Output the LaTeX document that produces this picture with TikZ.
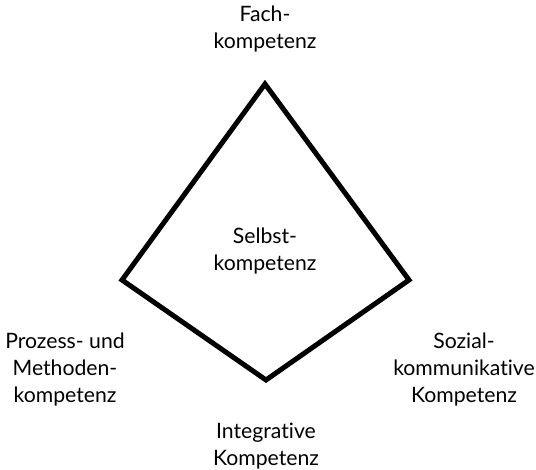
\documentclass[tikz,border=0pt]{standalone}
\usepackage{fontspec}
\setmainfont[Ligatures={NoCommon}]{Lato}
\begin{document}
\begin{tikzpicture}[x=0.5pt,y=-0.5pt,
label/.style={
% text only:
align=center,
font=\fontsize{10.6}{13.5}\selectfont,
inner sep=0pt
},
edge/.style={
line width=2.5pt,
line join=miter
}
]
\useasboundingbox (0,0) rectangle (536,470);
% corners of the kite
\coordinate (top) at (265,84);
\coordinate (left) at (122,280);
\coordinate (bottom) at (266,380);
\coordinate (right) at (409,280);
\draw[edge] (top) -- (right) -- (bottom) -- (left) -- cycle;

\node (fach) [label] at (265,29) {Fach-\\kompetenz};
\node (selbst) [label] at (265,251) {Selbst-\\kompetenz};
\node (prozess) [label] at (65,370) {Prozess- und\\Methoden-\\kompetenz};
\node (sozial) [label] at (464,370) {Sozial-\\kommunikative\\Kompetenz};
\node (integrativ) [label] at (266,446) {Integrative\\Kompetenz};
\end{tikzpicture}
\end{document}
